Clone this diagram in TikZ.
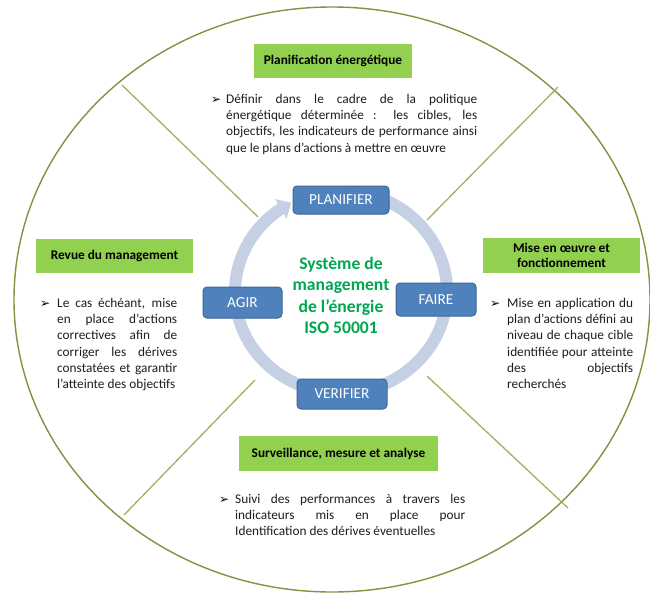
\documentclass[tikz,border=0pt]{standalone}
\usepackage{fontspec}
\setmainfont{Carlito}
\newfontfamily\dejavu{DejaVu Sans}
\usetikzlibrary{arrows.meta,bending}
\definecolor{ringc}{RGB}{197,208,228}
\definecolor{bluefill}{RGB}{79,129,189}
\definecolor{blueline}{RGB}{62,102,152}
\definecolor{greenfill}{RGB}{146,208,80}
\definecolor{centergreen}{RGB}{0,166,80}
\definecolor{ellc}{RGB}{125,150,65}
\definecolor{divc}{RGB}{155,180,100}
\definecolor{bodyc}{RGB}{30,30,30}
\hyphenpenalty=10000
\exhyphenpenalty=10000
\begin{document}
\begin{tikzpicture}[x=1pt,y=-1pt,
  gbox/.style={fill=greenfill, inner sep=0pt, text=black, align=center,
    font=\bfseries\fontsize{13.3}{15.5}\selectfont},
  bbox/.style={fill=bluefill, draw=blueline, line width=1pt, rounded corners=4pt,
    text=white, inner sep=0pt, font=\fontsize{15.3}{18}\selectfont},
  body/.style={anchor=base west, inner sep=0pt, text=bodyc,
    font=\fontsize{13.3}{16.2}\selectfont},
  bul/.style={anchor=base west, inner sep=0pt, text=black,
    font=\dejavu\fontsize{12}{13}\selectfont},
  divider/.style={draw=divc, line width=1.3pt},
  ringarrow/.style={draw=ringc, line width=12pt, -{Triangle[width=22pt,length=12pt]}}
]
\fill[white] (0,0) rectangle (650,597);
\useasboundingbox (0,0) rectangle (650,597);

% outer ellipse
\draw[ellc, line width=1.4pt] (332,299.5) ellipse [x radius=318, y radius=292.5];

% dividers
\coordinate (ula) at (122,85);  \coordinate (ulb) at (258,217);
\coordinate (ura) at (558,87);  \coordinate (urb) at (427,220);
\coordinate (lla) at (124,515); \coordinate (llb) at (255,380);
\coordinate (lra) at (427,376); \coordinate (lrb) at (568,508);
\draw[divider] (ula) -- (ulb);
\draw[divider] (ura) -- (urb);
\draw[divider] (lla) -- (llb);
\draw[divider] (lra) -- (lrb);

% cycle ring
\coordinate (ringstart) at (350.24,191.38);
\draw[ringarrow] (ringstart) arc[start angle=-85, end angle=242, x radius=106, y radius=101];

% blue boxes
\node[bbox, minimum width=96pt, minimum height=28pt] (plan) at (341,200) {PLANIFIER};
\node[bbox, minimum width=79pt, minimum height=31pt] (agir) at (242.5,302.5) {AGIR};
\node[bbox, minimum width=80pt, minimum height=33pt] (faire) at (436,299.5) {FAIRE};
\node[bbox, minimum width=90pt, minimum height=30pt] (verif) at (342,394) {VERIFIER};

% center text
\node[anchor=base, inner sep=0pt, text=centergreen] (center) at (341,269.5)
  {\parbox[t]{160pt}{\centering\bfseries\fontsize{17.6}{21.3}\selectfont
   Système de\\management\\de l’énergie\\ISO 50001}};

% green title boxes
\node[gbox, minimum width=158pt, minimum height=34pt] (tplan) at (333,61) {Planification énergétique};
\node[gbox, minimum width=157pt, minimum height=34pt] (trevue) at (114.5,256) {Revue du management};
\node[gbox, minimum width=157pt, minimum height=35pt] (tmise) at (561.5,255.5) {Mise en œuvre et\\fonctionnement};
\node[gbox, minimum width=199pt, minimum height=35pt] (tsurv) at (338.5,453.5) {Surveillance, mesure et analyse};

% body texts
\node[bul] (b1) at (211,103.5) {➢};
\node[body] (x1) at (226,103.5) {\parbox[t]{251pt}{%
Définir dans le cadre de la politique\linebreak
énergétique déterminée : les cibles, les\linebreak
objectifs, les indicateurs de performance ainsi\linebreak
que le plans d’actions à mettre en œuvre}};

\node[bul] (b2) at (40,307.5) {➢};
\node[body] (x2) at (57,307.5) {\parbox[t]{120pt}{%
Le cas échéant, mise\linebreak
en place d’actions\linebreak
correctives afin de\linebreak
corriger les dérives\linebreak
constatées et garantir\linebreak
l’atteinte des objectifs}};

\node[bul] (b3) at (490,307.5) {➢};
\node[body] (x3) at (507,307.5) {\parbox[t]{126pt}{%
Mise en application du\linebreak
plan d’actions défini au\linebreak
niveau de chaque cible\linebreak
identifiée pour atteinte\linebreak
des objectifs\linebreak
recherchés}};

\node[bul] (b4) at (219,503.5) {➢};
\node[body] (x4) at (235,503.5) {\parbox[t]{230pt}{%
Suivi des performances à travers les\linebreak
indicateurs mis en place pour\linebreak
Identification des dérives éventuelles}};
\end{tikzpicture}
\end{document}
